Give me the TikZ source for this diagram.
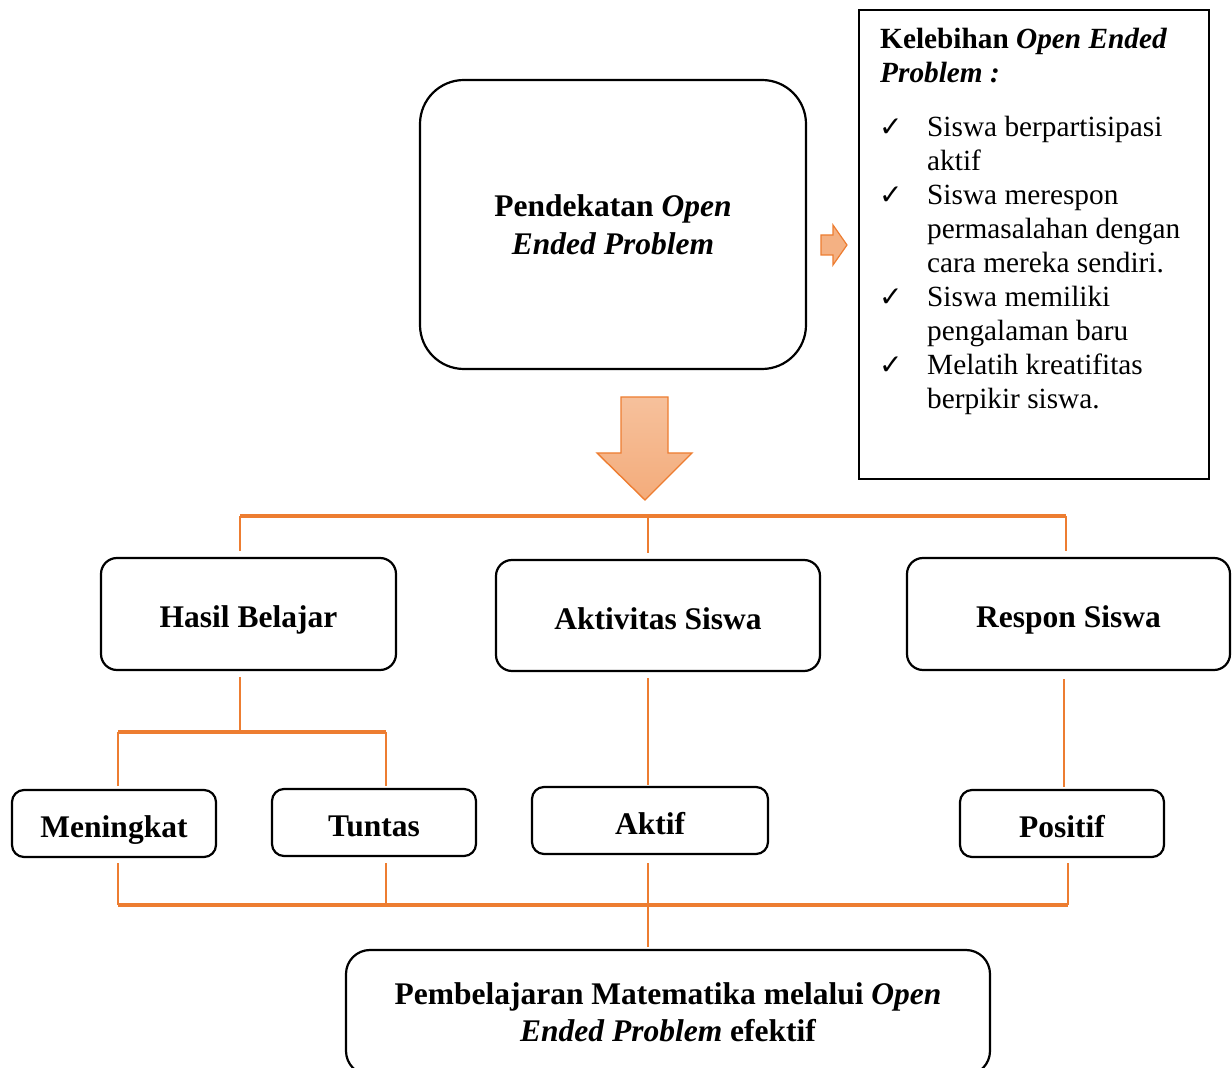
\documentclass[tikz,border=0pt]{standalone}
\usepackage{fontspec}
\setmainfont{Liberation Serif}
\newfontfamily\ceksym{DejaVu Sans}
\definecolor{jingga}{HTML}{ED7D31}
\definecolor{jinggamuda}{HTML}{F4B183}
\tikzset{
  kotak/.style={draw, line width=1.1pt, rounded corners=8pt, inner sep=0pt, align=center,
    font=\bfseries\fontsize{15.75}{19}\selectfont},
  satu/.style={kotak, text height=14pt, text depth=0pt},
  conn/.style={draw=jingga, line width=1.1pt},
  bus/.style={draw=jingga, line width=1.6pt},
}
\newcommand{\cek}{\noindent\llap{\makebox[24pt][l]{\ceksym\fontsize{14}{14}\selectfont ✓}}}
\begin{document}
\begin{tikzpicture}[x=0.5pt, y=-0.5pt]
\useasboundingbox (0,0) rectangle (1232,1068);
% top
\node[kotak, rounded corners=22pt, minimum width=193pt, minimum height=144.5pt] (pendekatan) at (613,224.5)
  {Pendekatan \textit{Open}\\ \textit{Ended Problem}};
\node[draw, line width=1.2pt, anchor=north west, inner xsep=10.5pt, inner ysep=9pt] (kelebihan) at (858,9) {%
\begin{minipage}[t][216.5pt][t]{154pt}
\fontsize{14.65}{17}\selectfont\raggedright
{\bfseries Kelebihan \itshape Open Ended\\ Problem :\par}
\vspace{10pt}
\leftskip=23.5pt
\cek Siswa berpartisipasi\\ aktif\par
\cek Siswa merespon\\ permasalahan dengan\\ cara mereka sendiri.\par
\cek Siswa memiliki\\ pengalaman baru\par
\cek Melatih kreatifitas\\ berpikir siswa.\par
\end{minipage}};
% arrows
\filldraw[fill=jinggamuda, draw=jingga, line width=0.6pt] (821,235) -- (833,235) -- (833,225) -- (847,245)
  -- (833,265) -- (833,255) -- (821,255) -- cycle;
\shade[top color=jinggamuda!80!white, bottom color=jinggamuda!90!jingga, draw=jingga, line width=0.7pt]
  (621,397) -- (668,397) -- (668,453) -- (692,453) -- (645,500) -- (597,453) -- (621,453) -- cycle;
% second row
\node[satu, minimum width=147.5pt, minimum height=56pt] (hasil) at (248.5,614) {Hasil Belajar};
\node[satu, minimum width=162pt, minimum height=55.5pt] (aktivitas) at (658,615.5) {Aktivitas Siswa};
\node[satu, minimum width=161.5pt, minimum height=56pt] (respon) at (1068.5,614) {Respon Siswa};
% third row
\node[satu, rounded corners=6pt, minimum width=102pt, minimum height=33.5pt] (meningkat) at (114,823.5) {Meningkat};
\node[satu, rounded corners=6pt, minimum width=102pt, minimum height=33.5pt] (tuntas) at (374,822.5) {Tuntas};
\node[satu, rounded corners=6pt, minimum width=118pt, minimum height=33.5pt] (aktif) at (650,820.5) {Aktif};
\node[satu, rounded corners=6pt, minimum width=102pt, minimum height=33.5pt] (positif) at (1062,823.5) {Positif};
% bottom
\node[kotak, rounded corners=12pt, minimum width=322pt, minimum height=62.5pt, font=\bfseries\fontsize{15.75}{18.5}\selectfont]
  (pembelajaran) at (668,1012.5) {Pembelajaran Matematika melalui \textit{Open}\\ \textit{Ended Problem} efektif};
% lines
\coordinate (busL) at (240,516);
\coordinate (busM) at (648,516);
\coordinate (busR) at (1066,516);
\draw[bus] (busL) -- (busR);
\draw[conn, shorten >=3pt] (busL) -- (busL |- hasil.north);
\draw[conn, shorten >=3pt] (busM) -- (busM |- aktivitas.north);
\draw[conn, shorten >=3pt] (busR) -- (busR |- respon.north);
\coordinate (split) at (240,732);
\coordinate (splitL) at (118,732);
\coordinate (splitR) at (386,732);
\draw[conn, shorten <=3pt] (split |- hasil.south) -- (split);
\draw[bus] (splitL) -- (splitR);
\draw[conn, shorten >=1.5pt] (splitL) -- (splitL |- meningkat.north);
\draw[conn, shorten >=1pt] (splitR) -- (splitR |- tuntas.north);
\draw[conn, shorten <=3pt, shorten >=0.5pt] (busM |- aktivitas.south) -- (busM |- aktif.north);
\draw[conn, shorten <=4pt, shorten >=1pt] ([xshift=1pt]positif.north |- respon.south) -- ([xshift=1pt]positif.north);
\coordinate (lowL) at (118,905);
\coordinate (lowM) at (648,905);
\coordinate (lowR) at (1068,905);
\draw[bus] (lowL) -- (lowR);
\draw[conn, shorten >=2.5pt] (lowL) -- (lowL |- meningkat.south);
\draw[conn, shorten >=3pt] (splitR |- lowL) -- (splitR |- tuntas.south);
\draw[conn, shorten >=4pt] (lowM) -- (lowM |- aktif.south);
\draw[conn, shorten >=2.5pt] (lowR) -- (lowR |- positif.south);
\draw[conn, shorten >=1pt] (lowM) -- (lowM |- pembelajaran.north);
\end{tikzpicture}
\end{document}
